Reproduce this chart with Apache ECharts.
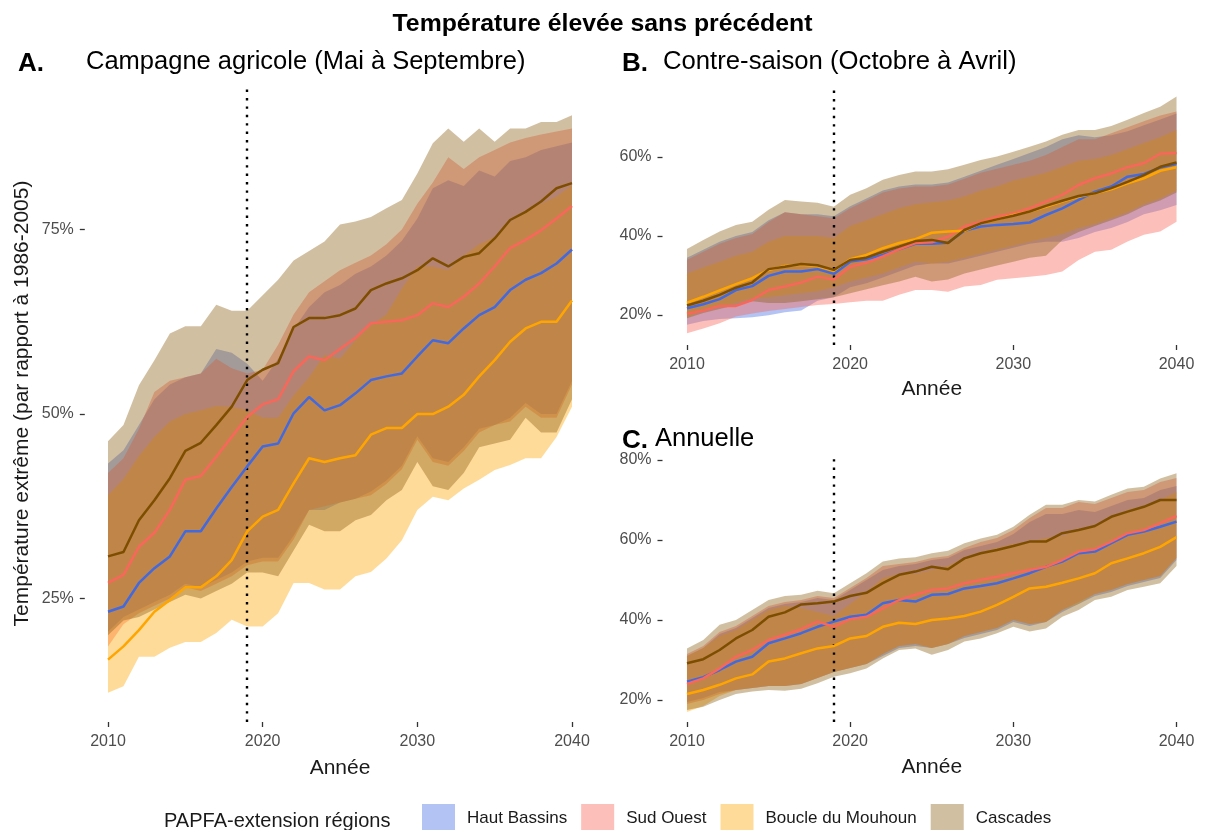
<!DOCTYPE html>
<html>
<head>
<meta charset="utf-8">
<script src="https://cdn.jsdelivr.net/npm/echarts@6/dist/echarts.min.js"></script>
<style>
  html, body { margin: 0; padding: 0; background: #fff; }
  #chart { width: 1205px; height: 830px; }
</style>
</head>
<body>
<div id="chart"></div>
<script>
// années
const years = [2010, 2011, 2012, 2013, 2014, 2015, 2016, 2017, 2018, 2019, 2020,
  2021, 2022, 2023, 2024, 2025, 2026, 2027, 2028, 2029, 2030,
  2031, 2032, 2033, 2034, 2035, 2036, 2037, 2038, 2039, 2040];
const xTicks = [2010, 2020, 2030, 2040];
const regions = ['Haut Bassins', 'Sud Ouest', 'Boucle du Mouhoun', 'Cascades'];

// A. Campagne agricole
const aHbMean = [23.2, 23.9, 27.1, 29.1, 30.7, 34.1, 34.1, 37.2, 40.1, 42.9, 45.6, 46.0, 50.1, 52.3, 50.5, 51.2, 52.8, 54.6, 55.1, 55.5, 57.8, 60.0, 59.6, 61.6, 63.4, 64.5, 66.8, 68.2, 69.1, 70.4, 72.3];
const aHbLow = [20.5, 22.5, 23.5, 24.5, 25.5, 27.0, 26.5, 27.5, 28.5, 30.0, 30.5, 30.5, 33.5, 37.0, 37.0, 38.0, 38.5, 39.5, 41.0, 43.0, 47.0, 44.0, 43.5, 45.5, 48.0, 48.5, 49.5, 51.5, 50.0, 50.0, 54.5];
const aHbHigh = [43.3, 45.1, 48.5, 52.0, 54.0, 55.0, 55.5, 58.8, 58.3, 56.8, 54.5, 57.5, 61.5, 64.5, 66.5, 67.5, 69.0, 70.0, 71.5, 73.5, 76.5, 80.6, 81.7, 80.9, 83.0, 82.2, 84.3, 84.8, 85.8, 86.3, 86.8];
const aSoMean = [27.1, 28.2, 32.0, 33.9, 37.0, 41.1, 41.6, 44.2, 46.9, 49.6, 51.3, 52.0, 55.8, 57.8, 57.3, 58.8, 60.3, 62.3, 62.5, 62.7, 63.4, 65.0, 64.5, 65.9, 67.7, 70.0, 72.5, 73.6, 74.9, 76.5, 78.2];
const aSoLow = [18.5, 21.5, 23.0, 24.0, 25.0, 26.5, 26.0, 27.0, 28.0, 29.5, 30.0, 30.0, 33.0, 37.0, 37.5, 38.0, 38.5, 39.0, 40.5, 42.5, 46.5, 43.5, 43.0, 45.0, 47.5, 48.5, 49.0, 51.0, 49.5, 49.5, 54.0];
const aSoHigh = [42.0, 44.0, 48.0, 53.0, 54.5, 55.0, 55.5, 57.5, 56.2, 55.5, 56.0, 59.4, 63.5, 66.5, 68.0, 69.5, 70.5, 71.5, 73.0, 75.0, 78.5, 81.4, 84.8, 83.2, 84.8, 85.8, 86.8, 87.4, 87.9, 88.3, 88.7];
const aBmMean = [16.7, 18.5, 20.7, 23.2, 24.8, 26.5, 26.5, 28.0, 30.2, 34.1, 36.1, 37.0, 40.6, 44.0, 43.5, 44.0, 44.4, 47.2, 48.1, 48.1, 50.0, 50.0, 51.0, 52.6, 55.1, 57.3, 59.8, 61.6, 62.5, 62.5, 65.4];
const aBmLow = [12.2, 13.1, 17.1, 17.1, 18.3, 19.1, 19.1, 20.3, 22.1, 21.2, 21.2, 23.0, 27.1, 27.1, 26.2, 26.2, 28.0, 28.6, 30.4, 32.9, 37.0, 38.8, 38.3, 39.9, 41.1, 42.4, 43.1, 44.0, 44.0, 46.9, 51.0];
const aBmHigh = [39.0, 41.2, 44.3, 46.9, 49.0, 50.0, 50.5, 51.1, 51.0, 50.5, 49.5, 49.5, 52.5, 55.0, 58.0, 57.5, 60.0, 62.0, 63.5, 67.0, 70.0, 70.0, 69.5, 71.5, 73.0, 74.0, 76.0, 77.5, 78.5, 79.5, 81.0];
const aCaMean = [30.7, 31.3, 35.6, 38.3, 41.3, 45.0, 46.1, 48.5, 51.0, 54.6, 56.0, 56.9, 61.8, 63.0, 63.0, 63.4, 64.3, 66.8, 67.7, 68.4, 69.5, 71.1, 70.0, 71.3, 71.8, 73.8, 76.3, 77.4, 78.8, 80.6, 81.3];
const aCaLow = [20.0, 22.0, 22.5, 23.5, 24.5, 25.5, 25.0, 26.0, 27.0, 28.5, 28.5, 28.0, 31.5, 35.0, 34.1, 34.1, 35.6, 36.3, 38.3, 39.7, 43.5, 40.2, 39.7, 42.0, 45.5, 46.0, 46.5, 49.5, 47.5, 47.5, 52.0];
const aCaHigh = [46.3, 48.5, 53.9, 57.3, 60.9, 61.9, 61.9, 64.8, 64.0, 64.0, 66.1, 68.2, 70.8, 72.1, 73.4, 75.7, 76.1, 76.7, 77.9, 79.0, 82.6, 86.7, 88.7, 86.9, 88.7, 86.9, 88.7, 88.7, 89.6, 89.6, 90.5];

// B. Contre-saison
const bHbMean = [21.7, 22.7, 24.0, 26.3, 27.3, 29.9, 31.0, 31.0, 31.6, 30.4, 33.5, 34.1, 35.2, 36.6, 38.0, 38.0, 38.3, 41.3, 42.4, 42.8, 43.0, 43.4, 45.3, 47.0, 49.1, 51.2, 52.5, 55.0, 55.7, 57.3, 58.2];
const bHbLow = [17.5, 18.5, 19.0, 19.2, 19.4, 19.9, 20.7, 21.1, 23.6, 24.5, 27.0, 28.0, 29.5, 31.0, 32.5, 33.0, 33.0, 34.0, 35.0, 36.0, 37.0, 38.0, 38.5, 38.5, 39.5, 41.0, 42.0, 43.5, 45.5, 46.5, 47.8];
const bHbHigh = [34.5, 36.5, 38.5, 40.0, 41.0, 44.0, 46.0, 45.5, 45.5, 45.0, 47.5, 49.5, 51.5, 52.5, 53.0, 53.0, 53.5, 55.0, 56.5, 58.0, 59.5, 61.0, 62.5, 64.5, 65.5, 65.0, 65.5, 66.5, 68.0, 69.5, 71.0];
const bSoMean = [20.3, 21.1, 22.3, 22.3, 23.8, 26.3, 27.2, 28.2, 29.7, 29.0, 32.2, 33.2, 34.8, 36.6, 38.2, 38.4, 39.8, 42.4, 43.6, 44.9, 45.7, 47.0, 48.7, 50.4, 52.9, 54.6, 55.8, 57.4, 58.4, 60.8, 61.0];
const bSoLow = [15.4, 16.6, 17.9, 19.6, 20.4, 21.0, 21.5, 22.0, 22.5, 22.8, 23.2, 23.6, 23.6, 25.1, 26.3, 26.3, 25.9, 27.2, 27.6, 28.9, 29.3, 29.7, 30.1, 31.0, 33.9, 36.0, 36.5, 38.6, 40.3, 41.1, 43.6];
const bSoHigh = [34.0, 36.0, 38.0, 39.5, 40.5, 43.5, 46.0, 45.5, 45.0, 44.5, 47.0, 49.0, 51.0, 52.0, 52.5, 52.5, 53.0, 54.5, 56.0, 57.0, 58.0, 59.0, 60.5, 62.5, 64.5, 64.5, 66.0, 67.5, 69.0, 70.5, 71.5];
const bBmMean = [23.1, 24.6, 26.2, 27.8, 29.3, 31.4, 32.4, 32.7, 32.4, 31.2, 34.1, 35.2, 36.9, 38.2, 39.2, 40.8, 41.1, 41.3, 43.2, 44.2, 45.3, 46.2, 47.4, 48.7, 49.9, 50.8, 51.8, 53.3, 54.6, 56.5, 57.4];
const bBmLow = [19.5, 21.0, 22.0, 23.0, 24.2, 24.5, 25.0, 25.5, 26.0, 27.0, 28.5, 29.5, 30.5, 32.0, 33.5, 33.0, 33.5, 34.5, 35.5, 36.5, 37.5, 38.5, 39.5, 40.5, 42.0, 43.0, 44.5, 46.0, 48.0, 49.5, 51.5];
const bBmHigh = [30.5, 32.0, 33.5, 35.0, 36.0, 38.5, 40.0, 40.0, 40.0, 39.5, 42.5, 44.0, 45.5, 47.0, 48.0, 48.5, 49.0, 50.0, 51.5, 52.5, 54.0, 55.0, 56.0, 57.5, 59.0, 59.5, 60.5, 62.0, 63.5, 65.0, 66.8];
const bCaMean = [22.4, 23.6, 25.1, 26.9, 28.2, 31.6, 32.2, 32.9, 32.6, 31.4, 33.9, 34.5, 36.0, 37.3, 38.7, 39.0, 38.2, 41.5, 43.2, 44.2, 45.1, 46.2, 47.6, 48.9, 50.1, 50.8, 52.1, 53.7, 55.4, 57.5, 58.6];
const bCaLow = [19.2, 20.5, 21.5, 22.5, 23.5, 23.0, 23.0, 23.5, 24.0, 24.5, 25.5, 26.5, 27.5, 28.5, 29.7, 28.5, 29.0, 30.5, 31.5, 32.5, 33.5, 34.5, 35.0, 39.0, 41.0, 42.5, 44.0, 45.5, 47.5, 49.0, 51.0];
const bCaHigh = [36.7, 39.0, 41.1, 42.8, 43.6, 46.6, 49.1, 48.7, 48.4, 47.4, 50.4, 52.1, 54.2, 55.4, 56.3, 56.3, 56.9, 58.0, 59.2, 60.1, 61.3, 62.6, 63.9, 65.6, 66.8, 66.8, 67.8, 69.4, 71.1, 72.7, 75.3];

// C. Annuelle
const cHbMean = [24.6, 25.7, 27.5, 29.6, 30.8, 34.2, 35.4, 36.7, 38.3, 39.6, 40.8, 41.3, 44.2, 45.0, 44.6, 46.3, 46.5, 47.9, 48.5, 49.2, 50.4, 51.7, 53.3, 54.6, 56.7, 57.1, 59.2, 61.3, 62.1, 63.3, 64.6];
const cHbLow = [19.5, 20.5, 22.0, 22.5, 23.0, 23.5, 23.5, 24.0, 25.5, 27.0, 28.0, 29.0, 31.0, 33.0, 33.5, 33.0, 34.0, 35.5, 36.5, 37.5, 39.5, 38.5, 39.5, 42.0, 44.0, 46.0, 47.0, 48.5, 49.5, 50.5, 55.0];
const cHbHigh = [31.0, 33.0, 36.5, 38.0, 40.5, 43.0, 44.0, 44.5, 45.5, 45.0, 47.5, 50.0, 52.5, 53.5, 54.0, 55.0, 55.5, 57.5, 58.5, 59.5, 61.5, 64.5, 66.5, 66.5, 67.5, 67.0, 68.5, 70.0, 70.5, 72.5, 73.5];
const cSoMean = [24.0, 25.4, 27.9, 30.8, 32.5, 35.0, 36.3, 37.7, 39.6, 38.3, 40.2, 40.8, 42.9, 45.0, 46.3, 47.5, 47.9, 49.2, 50.0, 50.8, 51.7, 52.5, 53.3, 55.0, 57.1, 57.7, 59.6, 61.7, 62.5, 64.2, 66.0];
const cSoLow = [19.0, 20.0, 21.5, 22.5, 23.0, 23.5, 23.5, 24.0, 25.5, 27.0, 28.0, 29.0, 31.5, 33.5, 34.0, 33.0, 34.0, 36.0, 37.0, 38.0, 40.0, 39.0, 39.5, 42.5, 44.5, 46.5, 47.5, 49.0, 50.0, 51.0, 55.5];
const cSoHigh = [31.5, 33.5, 37.0, 38.5, 41.0, 43.5, 44.5, 45.0, 46.0, 45.5, 48.0, 50.5, 53.5, 54.0, 54.5, 55.5, 56.0, 58.0, 59.5, 60.5, 62.5, 65.5, 68.0, 68.0, 69.5, 69.0, 70.5, 72.0, 72.5, 74.5, 75.5];
const cBmMean = [21.5, 22.5, 23.8, 25.4, 26.4, 29.6, 30.4, 31.7, 32.9, 33.5, 35.4, 36.0, 38.3, 39.3, 39.0, 40.0, 40.4, 41.0, 42.1, 43.8, 45.8, 47.9, 48.3, 49.3, 50.4, 51.7, 54.2, 55.4, 56.7, 58.3, 60.7];
const cBmLow = [17.0, 18.5, 21.0, 22.5, 23.0, 23.5, 23.5, 24.0, 25.5, 27.0, 28.0, 29.0, 31.5, 33.5, 34.0, 33.0, 34.0, 36.0, 37.0, 38.0, 40.0, 39.0, 39.5, 42.5, 44.0, 46.5, 47.5, 49.0, 50.0, 51.0, 55.5];
const cBmHigh = [31.0, 33.0, 36.0, 37.5, 40.0, 42.5, 43.5, 43.0, 42.0, 41.0, 44.0, 47.0, 50.5, 51.5, 51.5, 52.5, 53.5, 55.5, 57.0, 58.0, 59.0, 59.5, 60.5, 61.0, 62.5, 63.5, 65.5, 67.5, 68.5, 70.0, 72.0];
const cCaMean = [29.2, 30.2, 32.5, 35.4, 37.5, 40.8, 41.9, 43.9, 44.2, 44.6, 46.0, 46.8, 49.2, 51.3, 52.1, 53.3, 52.7, 55.4, 56.7, 57.5, 58.5, 59.6, 59.6, 61.7, 62.5, 63.5, 65.8, 67.1, 68.3, 70.0, 70.0];
const cCaLow = [17.5, 18.3, 20.0, 21.5, 22.1, 22.5, 22.3, 22.8, 24.2, 25.8, 26.7, 27.9, 30.4, 32.5, 32.9, 31.3, 32.5, 34.6, 35.4, 36.7, 38.3, 37.1, 37.9, 40.8, 42.5, 45.0, 45.8, 47.5, 48.3, 49.2, 53.5];
const cCaHigh = [32.9, 35.0, 38.8, 40.0, 42.5, 45.0, 46.0, 46.3, 47.3, 46.7, 49.2, 51.7, 54.6, 55.4, 55.7, 56.7, 57.3, 59.2, 60.4, 61.3, 63.3, 66.3, 68.8, 68.8, 70.0, 69.6, 71.3, 72.9, 73.3, 75.4, 76.7];

const lineColors = ['#4169E1', '#F8675A', '#FFA500', '#7D4E00'];
const fillColors = ['rgba(65,105,225,0.4)', 'rgba(248,102,88,0.42)', 'rgba(255,165,0,0.4)', 'rgba(139,95,20,0.4)'];

const panels = [
  { mean: [aHbMean, aSoMean, aBmMean, aCaMean], low: [aHbLow, aSoLow, aBmLow, aCaLow], high: [aHbHigh, aSoHigh, aBmHigh, aCaHigh] },
  { mean: [bHbMean, bSoMean, bBmMean, bCaMean], low: [bHbLow, bSoLow, bBmLow, bCaLow], high: [bHbHigh, bSoHigh, bBmHigh, bCaHigh] },
  { mean: [cHbMean, cSoMean, cBmMean, cCaMean], low: [cHbLow, cSoLow, cBmLow, cCaLow], high: [cHbHigh, cSoHigh, cBmHigh, cCaHigh] }
];

const FONT = '"Liberation Sans", Arial, sans-serif';

// bande = un seul polygone, construit par l'axe de la grille
function bandSeries(name, idx, lo, hi, fill) {
  return {
    type: 'custom',
    name: name,
    xAxisIndex: idx,
    yAxisIndex: idx,
    silent: true,
    itemStyle: { color: fill },
    data: years.map((y, i) => [y, lo[i], hi[i]]),
    encode: { x: 0, y: [1, 2] },
    renderItem: function (params, api) {
      if (params.dataIndex !== 0) return null;
      const top = years.map((y, i) => api.coord([y, hi[i]]));
      const bot = years.map((y, i) => api.coord([y, lo[i]])).reverse();
      return { type: 'polygon', shape: { points: top.concat(bot) }, style: { fill: fill } };
    },
    z: 2
  };
}

function lineSeries(name, idx, vals, color, withMark) {
  const s = {
    type: 'line',
    name: name,
    xAxisIndex: idx,
    yAxisIndex: idx,
    data: years.map((y, i) => [y, vals[i]]),
    showSymbol: false,
    silent: true,
    lineStyle: { color: color, width: 2.5 },
    itemStyle: { color: color },
    z: 5
  };
  if (withMark) {
    s.markLine = {
      silent: true,
      symbol: 'none',
      label: { show: false },
      lineStyle: { color: '#000', width: 2.4, type: [2.4, 6], cap: 'butt' },
      data: [{ xAxis: 2019 }]
    };
  }
  return s;
}

const series = [];
panels.forEach((p, idx) => {
  regions.forEach((r, k) => series.push(bandSeries(r, idx, p.low[k], p.high[k], fillColors[k])));
});
panels.forEach((p, idx) => {
  regions.forEach((r, k) => series.push(lineSeries(r, idx, p.mean[k], lineColors[k], k === 3)));
});

const tickStyle = { show: true, length: 5, lineStyle: { color: '#333', width: 1.3 } };
const labelStyle = { color: '#4d4d4d', fontSize: 16, fontFamily: FONT };
const nameStyle = { color: '#1a1a1a', fontSize: 21, fontFamily: FONT };

function xAxisFor(idx, gap) {
  return {
    type: 'value', gridIndex: idx, min: 2008.5, max: 2041.5,
    axisLine: { show: false },
    axisTick: Object.assign({ customValues: xTicks }, tickStyle),
    axisLabel: Object.assign({ customValues: xTicks, margin: 12, formatter: v => String(v) }, labelStyle),
    splitLine: { show: false },
    name: 'Année', nameLocation: 'middle', nameGap: gap, nameTextStyle: nameStyle
  };
}
function yAxisFor(idx, min, max, ticks, name) {
  const ax = {
    type: 'value', gridIndex: idx, min: min, max: max,
    axisLine: { show: false },
    axisTick: Object.assign({ customValues: ticks }, tickStyle),
    axisLabel: Object.assign({ customValues: ticks, margin: 11, formatter: '{value}%' }, labelStyle),
    splitLine: { show: false }
  };
  if (name) {
    ax.name = name;
    ax.nameLocation = 'middle';
    ax.nameGap = 52;
    ax.nameTextStyle = nameStyle;
  }
  return ax;
}

const chart = echarts.init(document.getElementById('chart'), null, { renderer: 'canvas' });
chart.setOption({
  animation: false,
  backgroundColor: '#fff',
  textStyle: { fontFamily: FONT },
  title: [
    { text: 'Température élevée sans précédent', left: 'center', top: 7,
      textStyle: { fontSize: 24.8, fontWeight: 'bold', color: '#000', fontFamily: FONT } },
    { text: 'A.', left: 13, top: 46, textStyle: { fontSize: 26, fontWeight: 'bold', color: '#000', fontFamily: FONT } },
    { text: 'Campagne agricole (Mai à Septembre)', left: 81, top: 44,
      textStyle: { fontSize: 25.5, fontWeight: 'normal', color: '#000', fontFamily: FONT } },
    { text: 'B.', left: 617, top: 46, textStyle: { fontSize: 26, fontWeight: 'bold', color: '#000', fontFamily: FONT } },
    { text: 'Contre-saison (Octobre à Avril)', left: 658, top: 44,
      textStyle: { fontSize: 25.7, fontWeight: 'normal', color: '#000', fontFamily: FONT } },
    { text: 'C.', left: 617, top: 423, textStyle: { fontSize: 26, fontWeight: 'bold', color: '#000', fontFamily: FONT } },
    { text: 'Annuelle', left: 650, top: 421,
      textStyle: { fontSize: 25.5, fontWeight: 'normal', color: '#000', fontFamily: FONT } },
    { text: 'PAPFA-extension régions', left: 159, top: 806,
      textStyle: { fontSize: 20, fontWeight: 'normal', color: '#1a1a1a', fontFamily: FONT } }
  ],
  legend: {
    left: 422, top: 804, padding: 0,
    itemWidth: 33, itemHeight: 28, itemGap: 14,
    selectedMode: false,
    textStyle: { fontSize: 17, color: '#1a1a1a', fontFamily: FONT, padding: [0, 0, 0, 7] },
    data: regions.map((r, k) => ({ name: r, icon: 'rect', itemStyle: { color: fillColors[k], borderWidth: 0 } }))
  },
  grid: [
    { left: 84.8, top: 85, width: 510.4, height: 637 },
    { left: 662.5, top: 85, width: 538.5, height: 260 },
    { left: 662.5, top: 458, width: 538.5, height: 264 }
  ],
  xAxis: [xAxisFor(0, 36), xAxisFor(1, 34), xAxisFor(2, 35)],
  yAxis: [
    yAxisFor(0, 8.25, 94.6, [25, 50, 75], 'Température extrême (par rapport à 1986-2005)'),
    yAxisFor(1, 12.4, 78.2, [20, 40, 60]),
    yAxisFor(2, 14.5, 80.5, [20, 40, 60, 80])
  ],
  series: series
});
</script>
</body>
</html>
